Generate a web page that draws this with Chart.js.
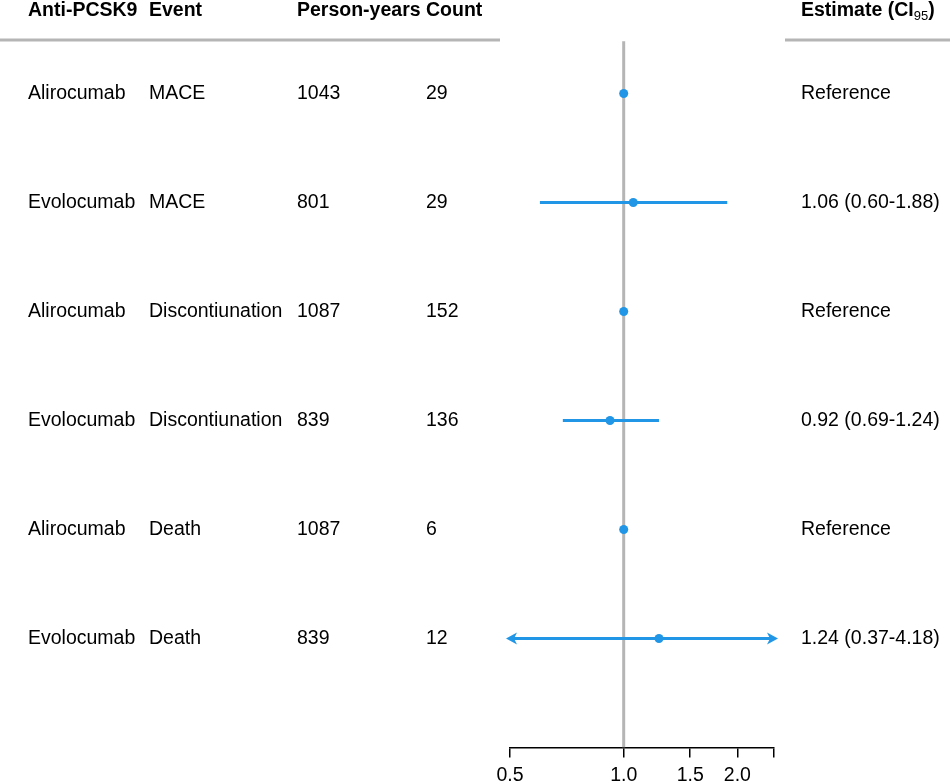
<!DOCTYPE html>
<html>
<head>
<meta charset="utf-8">
<script src="https://cdn.jsdelivr.net/npm/chart.js@4.4.1/dist/chart.umd.min.js"></script>
<style>
  html, body { margin: 0; padding: 0; background: #fff; }
  canvas { display: block; }
</style>
</head>
<body>
<canvas id="forest" width="950" height="784"></canvas>
<script>
// datos del gráfico
const drugs = ['Alirocumab', 'Evolocumab', 'Alirocumab', 'Evolocumab', 'Alirocumab', 'Evolocumab'];
const events = ['MACE', 'MACE', 'Discontiunation', 'Discontiunation', 'Death', 'Death'];
const personYears = [1043, 801, 1087, 839, 1087, 839];
const counts = [29, 29, 152, 136, 6, 12];
const estimates = [1, 1.06, 1, 0.92, 1, 1.24];
const ciLow = [null, 0.60, null, 0.69, null, 0.37];
const ciHigh = [null, 1.88, null, 1.24, null, 4.18];
const estimateLabels = ['Reference', '1.06 (0.60-1.88)', 'Reference', '0.92 (0.69-1.24)', 'Reference', '1.24 (0.37-4.18)'];
const tickValues = [0.5, 1.0, 1.5, 2.0, 2.5];
const tickLabels = ['0.5', '1.0', '1.5', '2.0', ''];

const FONT = '"Liberation Sans", Arial, Helvetica, sans-serif';
const FS = 19.5;
const BLUE = '#2196e6';
const GREY = '#b5b5b5';
const X_MIN = 0.5, X_MAX = 2.5;

const rows = drugs.map((d, i) => i + 1);

// columnas de texto a la izquierda
const columns = [
    { x: 28, title: 'Anti-PCSK9', values: drugs },
    { x: 149, title: 'Event', values: events },
    { x: 297, title: 'Person-years', values: personYears },
    { x: 426, title: 'Count', values: counts },
];

const textPlugin = {
    id: 'forestText',
    afterDraw(chart) {
        const ctx = chart.ctx;
        const yScale = chart.scales.y;
        ctx.save();
        ctx.textBaseline = 'middle';
        ctx.textAlign = 'left';
        ctx.fillStyle = '#000';

        // encabezados
        ctx.font = 'bold ' + FS + 'px ' + FONT;
        columns.forEach(c => ctx.fillText(c.title, c.x, 11));
        let ex = 801;
        ctx.fillText('Estimate (CI', ex, 11);
        ex += ctx.measureText('Estimate (CI').width;
        ctx.font = '13px ' + FONT;
        ctx.fillText('95', ex, 16);
        ex += ctx.measureText('95').width;
        ctx.font = 'bold ' + FS + 'px ' + FONT;
        ctx.fillText(')', ex, 11);

        // filas
        ctx.font = FS + 'px ' + FONT;
        rows.forEach((r, i) => {
            const y = yScale.getPixelForValue(r);
            columns.forEach(c => ctx.fillText(String(c.values[i]), c.x, y));
            ctx.fillText(estimateLabels[i], 801, y);
        });

        // líneas del encabezado
        ctx.strokeStyle = GREY;
        ctx.lineWidth = 3;
        ctx.beginPath();
        ctx.moveTo(0, 40);
        ctx.lineTo(500, 40);
        ctx.moveTo(785, 40);
        ctx.lineTo(950, 40);
        ctx.stroke();
        ctx.restore();
    }
};

// flechas cuando el intervalo sale del rango
const arrowPlugin = {
    id: 'ciArrows',
    afterDatasetsDraw(chart) {
        const ctx = chart.ctx;
        const xScale = chart.scales.x;
        const yScale = chart.scales.y;
        ctx.save();
        ctx.fillStyle = BLUE;
        rows.forEach((r, i) => {
            if (ciLow[i] === null) return;
            const y = yScale.getPixelForValue(r);
            if (ciLow[i] < X_MIN) {
                const x = xScale.left - 4;
                ctx.beginPath();
                ctx.moveTo(x, y);
                ctx.lineTo(x + 11, y - 6);
                ctx.lineTo(x + 8, y);
                ctx.lineTo(x + 11, y + 6);
                ctx.closePath();
                ctx.fill();
            }
            if (ciHigh[i] > X_MAX) {
                const x = xScale.right + 4;
                ctx.beginPath();
                ctx.moveTo(x, y);
                ctx.lineTo(x - 11, y - 6);
                ctx.lineTo(x - 8, y);
                ctx.lineTo(x - 11, y + 6);
                ctx.closePath();
                ctx.fill();
            }
        });
        ctx.restore();
    }
};

const datasets = [];

datasets.push({
    label: 'ref',
    data: [{ x: 1, y: 0.52 }, { x: 1, y: 7 }],
    showLine: true,
    borderColor: GREY,
    borderWidth: 3,
    pointRadius: 0,
    order: 3
});

rows.forEach((r, i) => {
    if (ciLow[i] === null) return;
    datasets.push({
        label: 'ci' + r,
        data: [{ x: ciLow[i], y: r }, { x: ciHigh[i], y: r }],
        showLine: true,
        borderColor: BLUE,
        borderWidth: 3,
        pointRadius: 0,
        order: 2
    });
});

datasets.push({
    label: 'estimate',
    data: rows.map((r, i) => ({ x: estimates[i], y: r })),
    backgroundColor: BLUE,
    borderColor: BLUE,
    pointRadius: 4.5,
    pointBorderWidth: 0,
    order: 1
});

new Chart(document.getElementById('forest'), {
    type: 'scatter',
    data: { datasets: datasets },
    options: {
        responsive: false,
        animation: false,
        layout: { padding: { left: 510, right: 176, top: 39, bottom: -9 } },
        plugins: {
            legend: { display: false },
            tooltip: { enabled: false }
        },
        scales: {
            x: {
                type: 'logarithmic',
                min: X_MIN,
                max: X_MAX,
                position: 'bottom',
                afterBuildTicks: axis => {
                    axis.ticks = tickValues.map(v => ({ value: v }));
                },
                grid: {
                    drawOnChartArea: false,
                    drawTicks: true,
                    tickLength: 10,
                    color: '#000',
                    lineWidth: 1.5
                },
                border: { display: true, color: '#000', width: 1.5 },
                ticks: {
                    color: '#000',
                    autoSkip: false,
                    maxRotation: 0,
                    padding: 8,
                    font: { size: FS, family: FONT, lineHeight: 1.0 },
                    callback: (v, idx) => tickLabels[idx]
                }
            },
            y: {
                type: 'linear',
                min: 0.5,
                max: 7,
                reverse: true,
                display: false
            }
        }
    },
    plugins: [textPlugin, arrowPlugin]
});
</script>
</body>
</html>
